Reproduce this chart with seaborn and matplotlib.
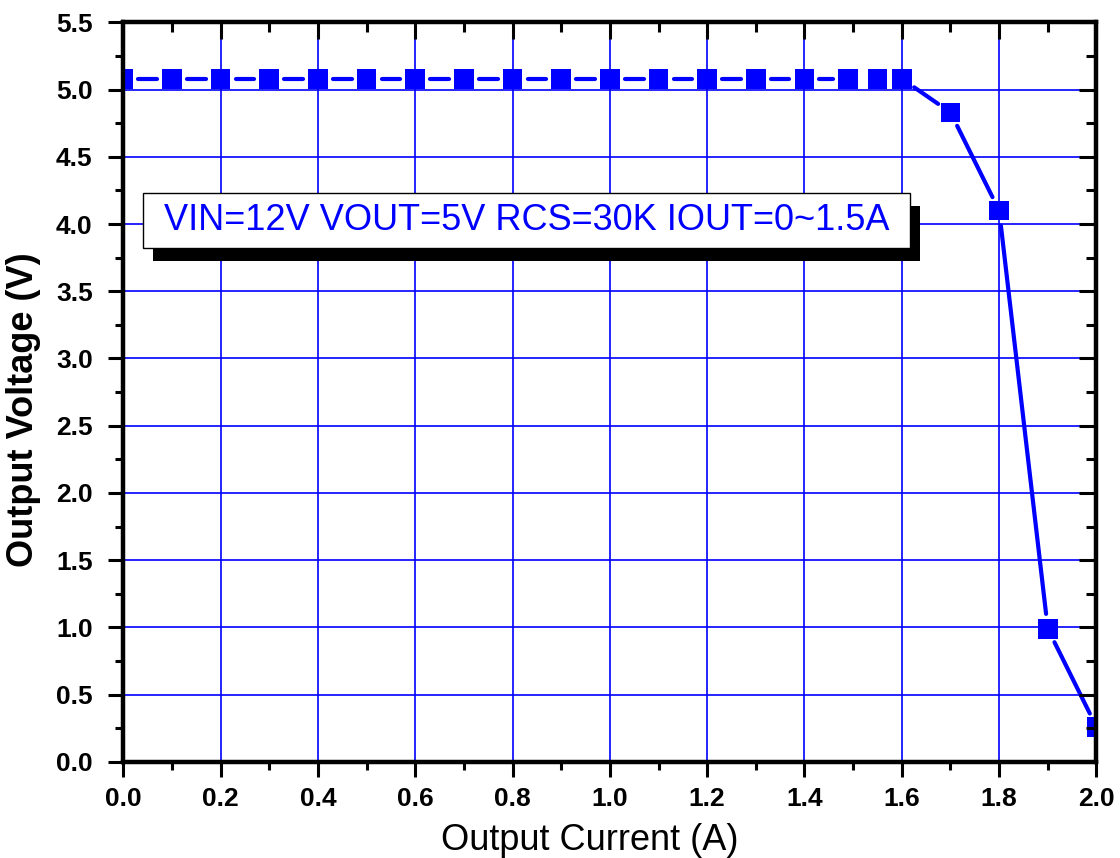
import numpy as np
import matplotlib
matplotlib.use('Agg')
import matplotlib.pyplot as plt
from matplotlib.patches import Rectangle
from matplotlib.ticker import MultipleLocator, FormatStrFormatter
import seaborn as sns

# output current (A) and output voltage (V)
current = [0.0, 0.1, 0.2, 0.3, 0.4, 0.5, 0.6, 0.7, 0.8, 0.9, 1.0, 1.1, 1.2, 1.3,
           1.4, 1.49, 1.55, 1.6, 1.7, 1.8, 1.9, 2.0]
voltage = [5.08, 5.08, 5.08, 5.08, 5.08, 5.08, 5.08, 5.08, 5.08, 5.08, 5.08, 5.08,
           5.08, 5.08, 5.08, 5.08, 5.08, 5.08, 4.83, 4.10, 0.99, 0.26]
note = 'VIN=12V VOUT=5V RCS=30K IOUT=0~1.5A'

sns.set_style('ticks')
plt.rcParams['font.family'] = ['Liberation Sans', 'DejaVu Sans']
for k in ['text.color', 'axes.labelcolor', 'xtick.color', 'ytick.color']:
    plt.rcParams[k] = 'black'

fig = plt.figure(figsize=(11.2, 8.58), dpi=100)
ax = fig.add_axes([0.110, 0.112, 0.869, 0.862])
ax.set_axisbelow(True)


def setup(a):
    a.set_xlim(0, 2.0)
    a.set_ylim(0, 5.5)
    a.xaxis.set_major_locator(MultipleLocator(0.2))
    a.xaxis.set_minor_locator(MultipleLocator(0.1))
    a.yaxis.set_major_locator(MultipleLocator(0.5))
    a.yaxis.set_minor_locator(MultipleLocator(0.25))
    for s in a.spines.values():
        s.set_linewidth(3)
        s.set_color('black')


setup(ax)
ax.grid(which='major', color='blue', lw=1.2)
ax.xaxis.set_major_formatter(FormatStrFormatter('%.1f'))
ax.yaxis.set_major_formatter(FormatStrFormatter('%.1f'))
ax.tick_params(which='major', direction='out', length=11, width=2.2, labelsize=19, pad=7)
ax.tick_params(axis='y', which='major', pad=11)
ax.tick_params(which='minor', direction='out', length=6, width=2.2)
for lab in ax.get_xticklabels() + ax.get_yticklabels():
    lab.set_fontweight('bold')

# inward ticks on top and right
axt = ax.twiny()
axr = ax.twinx()
for a in (axt, axr):
    setup(a)
    a.grid(False)
axt.tick_params(axis='x', which='both', direction='in', width=2.2, top=True,
                bottom=False, labeltop=False, labelbottom=False)
axt.tick_params(axis='x', which='major', length=12)
axt.tick_params(axis='x', which='minor', length=7)
axr.tick_params(axis='y', which='both', direction='in', width=2.2, right=True,
                left=False, labelright=False, labelleft=False)
axr.tick_params(axis='y', which='major', length=12)
axr.tick_params(axis='y', which='minor', length=7)

ax.set_xlabel('Output Current (A)', fontsize=26)
ax.set_ylabel('Output Voltage (V)', fontsize=26, fontweight='bold')
ax.xaxis.set_label_coords(0.479, -0.083)
ax.yaxis.set_label_coords(-0.084, 0.476)

# connecting line with gaps around markers (Origin style)
gap = 15
pts = ax.transData.transform(np.column_stack([current, voltage]))
for p1, p2 in zip(pts[:-1], pts[1:]):
    d = p2 - p1
    L = np.hypot(*d)
    if L <= 2 * gap + 2:
        continue
    u = d / L
    a = ax.transData.inverted().transform([p1 + u * gap, p2 - u * gap])
    ax.plot(a[:, 0], a[:, 1], color='blue', lw=3, solid_capstyle='round', zorder=2)

sns.scatterplot(x=current, y=voltage, marker='s', s=200, color='blue',
                edgecolor='none', ax=ax, zorder=3)

# annotation box with drop shadow (axes fraction)
bx, by, bw, bh = 0.0206, 0.6946, 0.788, 0.0743
ax.add_patch(Rectangle((bx + 0.0103, by - 0.0176), bw, bh, transform=ax.transAxes,
                       fc='black', ec='black', lw=0, zorder=4))
ax.add_patch(Rectangle((bx, by), bw, bh, transform=ax.transAxes,
                       fc='white', ec='black', lw=1, zorder=5))
ax.text(bx + bw / 2, by + bh / 2, note, transform=ax.transAxes, fontsize=26,
        color='blue', ha='center', va='center', zorder=6)

fig.savefig('out.png', dpi=100)
